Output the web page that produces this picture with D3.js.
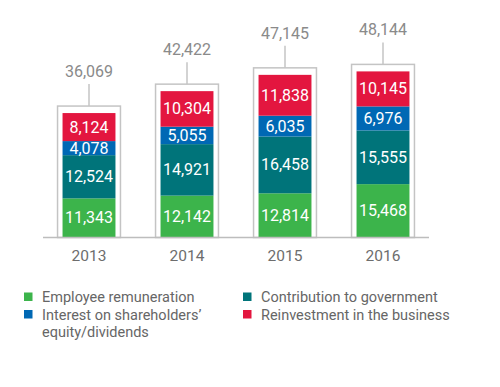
<!DOCTYPE html>
<html>
<head>
<meta charset="utf-8">
<script src="https://cdn.jsdelivr.net/npm/d3@7"></script>
<style>
  body { margin: 0; background: #fff; }
  text { font-family: Roboto, "Open Sans", sans-serif; }
</style>
</head>
<body>
<div id="chart"></div>
<script>
// values (thousands)
const years = ['2013', '2014', '2015', '2016'];
const seriesNames = ['Employee remuneration', 'Contribution to government', 'Interest on shareholders’ equity/dividends', 'Reinvestment in the business'];
const employee = [11343, 12142, 12814, 15468];
const government = [12524, 14921, 16458, 15555];
const interest = [4078, 5055, 6035, 6976];
const reinvest = [8124, 10304, 11838, 10145];
const totals = [36069, 42422, 47145, 48144];

const colors = ['#3cb44b', '#00747a', '#0068b4', '#e3163f'];

const width = 500, height = 387;
const baseY = 237.5;

const svg = d3.select('#chart').append('svg')
  .attr('width', width)
  .attr('height', height);

const x = d3.scaleBand()
  .domain(years)
  .range([40, 432])
  .paddingInner(0.46)
  .paddingOuter(0.23);

const y = d3.scaleLinear()
  .domain([0, 50000])
  .range([baseY, baseY - 172.5]);

const rows = years.map((yr, i) => ({
  year: yr,
  vals: [employee[i], government[i], interest[i], reinvest[i]],
  total: totals[i]
}));

// outer boxes + leader lines
const pad = 5;
rows.forEach(r => {
  const top = d3.sum(r.vals);
  svg.append('rect')
    .attr('x', x(r.year) - pad)
    .attr('y', y(top) - 7)
    .attr('width', x.bandwidth() + pad * 2)
    .attr('height', baseY - (y(top) - 7))
    .attr('fill', 'none')
    .attr('stroke', '#c4c4c4')
    .attr('stroke-width', 1.5);
  svg.append('line')
    .attr('x1', x(r.year) + x.bandwidth() / 2)
    .attr('x2', x(r.year) + x.bandwidth() / 2)
    .attr('y1', y(top) - 7)
    .attr('y2', y(top) - 29)
    .attr('stroke', '#c4c4c4')
    .attr('stroke-width', 1.5);
  svg.append('text')
    .attr('x', x(r.year) + x.bandwidth() / 2)
    .attr('y', y(top) - 36)
    .attr('text-anchor', 'middle')
    .attr('font-size', 16)
    .attr('fill', '#8a8a8a')
    .text(d3.format(',')(r.total));
});

// stacked segments
rows.forEach(r => {
  let acc = 0;
  r.vals.forEach((v, k) => {
    const y0 = y(acc), y1 = y(acc + v);
    svg.append('rect')
      .attr('x', x(r.year))
      .attr('y', y1)
      .attr('width', x.bandwidth())
      .attr('height', y0 - y1)
      .attr('fill', colors[k]);
    svg.append('text')
      .attr('x', x(r.year) + x.bandwidth() / 2)
      .attr('y', (y0 + y1) / 2 + 5.5)
      .attr('text-anchor', 'middle')
      .attr('font-size', 16)
      .attr('fill', '#fff')
      .text(d3.format(',')(v));
    acc += v;
  });
});

// baseline
svg.append('line')
  .attr('x1', 43).attr('x2', 429)
  .attr('y1', baseY).attr('y2', baseY)
  .attr('stroke', '#bdbdbd')
  .attr('stroke-width', 1.5);

// year labels
svg.selectAll('.yr')
  .data(years)
  .enter()
  .append('text')
  .attr('x', d => x(d) + x.bandwidth() / 2)
  .attr('y', 261)
  .attr('text-anchor', 'middle')
  .attr('font-size', 15.5)
  .attr('fill', '#6d6d6d')
  .text(d => d);

// legend
const legendItems = [
  { k: 0, x: 24, y: 297, lines: [seriesNames[0]] },
  { k: 2, x: 24, y: 314.5, lines: ['Interest on shareholders’', 'equity/dividends'] },
  { k: 1, x: 243, y: 297, lines: [seriesNames[1]] },
  { k: 3, x: 243, y: 314.5, lines: [seriesNames[3]] }
];
legendItems.forEach(it => {
  svg.append('rect')
    .attr('x', it.x)
    .attr('y', it.y - 4.5)
    .attr('width', 8.5)
    .attr('height', 8.5)
    .attr('fill', colors[it.k]);
  it.lines.forEach((ln, j) => {
    svg.append('text')
      .attr('x', it.x + 18)
      .attr('y', it.y + 5 + j * 17.5)
      .attr('font-size', 14.5)
      .attr('fill', '#666')
      .text(ln);
  });
});
</script>
</body>
</html>
